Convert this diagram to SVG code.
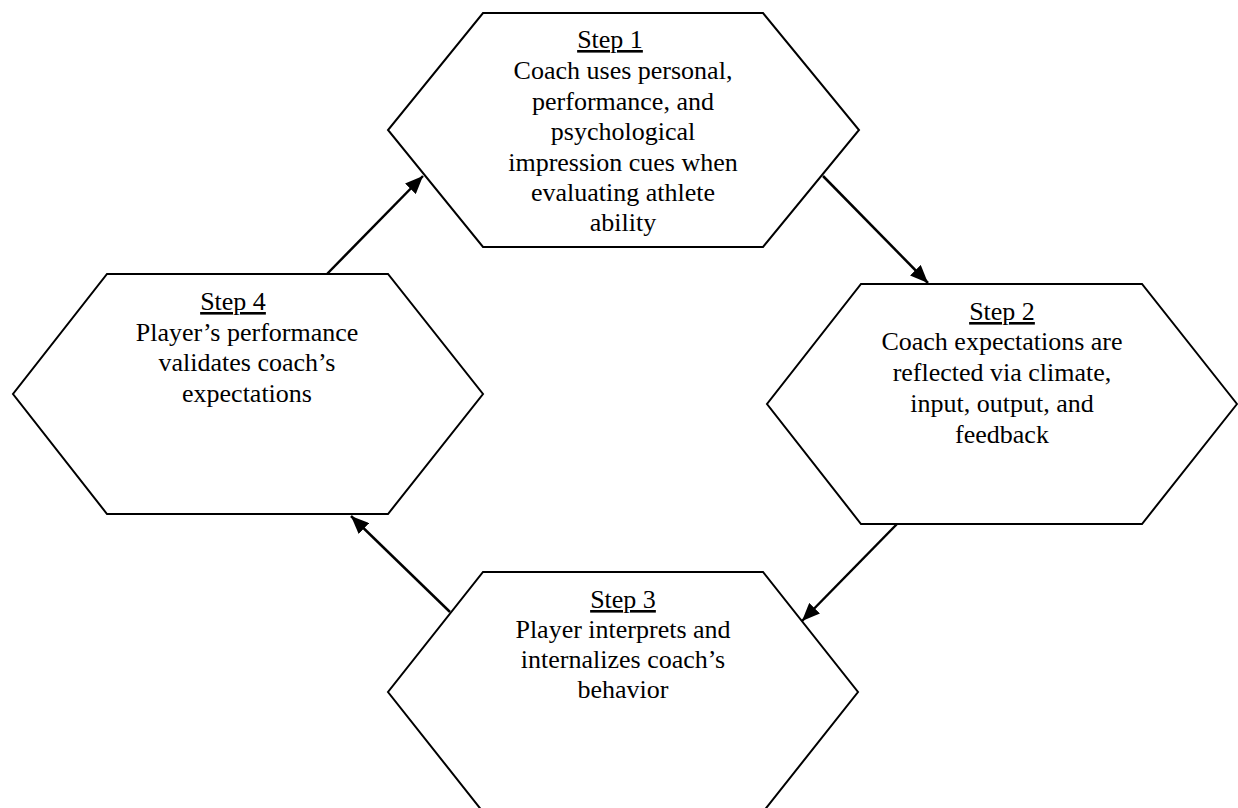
<svg xmlns="http://www.w3.org/2000/svg" width="1238" height="808" viewBox="0 0 1238 808">
<style>
.hex{fill:#fff;stroke:#000;stroke-width:2}
.t{font-family:"Liberation Serif","Times New Roman",serif;font-size:26px;fill:#000;text-anchor:middle}
.u{text-decoration:underline}
.conn{stroke:#000;stroke-width:2.5;fill:none}
</style>
<defs>
<marker id="ah" markerUnits="userSpaceOnUse" markerWidth="19" markerHeight="15" refX="18" refY="7.5" orient="auto">
<path d="M0,0 L18,7.5 L0,15 Z" fill="#000"/>
</marker>
</defs>
<rect width="1238" height="808" fill="#fff"/>
<g id="connectors">
<line class="conn" x1="823" y1="176" x2="928" y2="283" marker-end="url(#ah)"/>
<line class="conn" x1="897" y1="524" x2="802" y2="621" marker-end="url(#ah)"/>
<line class="conn" x1="450" y1="612" x2="351" y2="516" marker-end="url(#ah)"/>
<line class="conn" x1="327" y1="274" x2="423" y2="176" marker-end="url(#ah)"/>
</g>
<g id="step1">
<polygon class="hex" points="483,13 763,13 859,130 763,247 483,247 388,130"/>
<text class="t"><tspan class="u" x="610" y="48">Step 1</tspan><tspan x="623" y="79">Coach uses personal,</tspan><tspan x="623" y="110">performance, and</tspan><tspan x="623" y="140">psychological</tspan><tspan x="623" y="171">impression cues when</tspan><tspan x="623" y="201">evaluating athlete</tspan><tspan x="623" y="231">ability</tspan></text>
</g>
<g id="step2">
<polygon class="hex" points="861,284 1142,284 1237,404 1142,524 861,524 767,404"/>
<text class="t"><tspan class="u" x="1002" y="320">Step 2</tspan><tspan x="1002" y="350">Coach expectations are</tspan><tspan x="1002" y="381">reflected via climate,</tspan><tspan x="1002" y="412">input, output, and</tspan><tspan x="1002" y="443">feedback</tspan></text>
</g>
<g id="step3">
<polygon class="hex" points="483,572 763,572 858,692 763,812 483,812 388,692"/>
<text class="t"><tspan class="u" x="623" y="608">Step 3</tspan><tspan x="623" y="638">Player interprets and</tspan><tspan x="623" y="668">internalizes coach’s</tspan><tspan x="623" y="698">behavior</tspan></text>
</g>
<g id="step4">
<polygon class="hex" points="107,274 388,274 483,394 388,514 107,514 13,394"/>
<text class="t"><tspan class="u" x="233" y="310">Step 4</tspan><tspan x="247" y="341">Player’s performance</tspan><tspan x="247" y="371">validates coach’s</tspan><tspan x="247" y="402">expectations</tspan></text>
</g>
</svg>
